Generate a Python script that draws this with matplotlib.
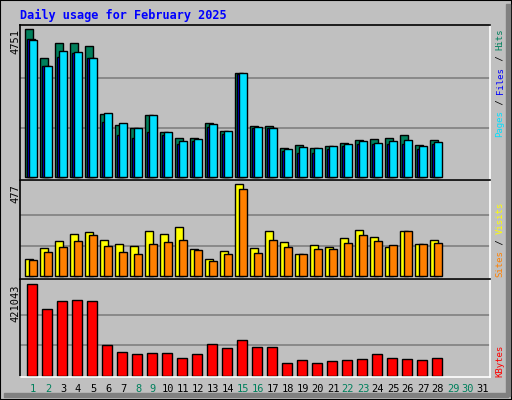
import numpy as np
import matplotlib.pyplot as plt
from matplotlib.patches import Rectangle

W, H = 512, 400
days = np.arange(1, 29)
day_labels = [str(d) for d in range(1, 32)]
weekend = [1, 2, 8, 9, 15, 16, 22, 23, 29, 30]

hits = [4751, 3810, 4303, 4303, 4216, 2017, 1678, 1555, 1976, 1455, 1248, 1248, 1725,
        1484, 3344, 1646, 1646, 935, 1016, 935, 991, 1081, 1170, 1200, 1232, 1353, 1016, 1170]
files = [4405, 3558, 4040, 4020, 3829, 2068, 1725, 1580, 1976, 1436, 1160, 1200, 1707,
         1478, 3338, 1600, 1580, 903, 967, 935, 1000, 1060, 1150, 1090, 1150, 1180, 1000, 1120]
pages = [4450, 3560, 3860, 3990, 3820, 1747, 1350, 1260, 1450, 1330, 1060, 1150, 1600,
         1390, 3300, 1560, 1560, 820, 760, 760, 880, 1000, 1040, 1040, 1040, 1040, 880, 1040]
visits = [88, 145, 181, 218, 228, 187, 166, 156, 233, 218, 254, 140, 88, 130, 477, 145,
          233, 176, 114, 161, 150, 197, 238, 202, 150, 233, 166, 187]
sites = [83, 124, 150, 181, 212, 156, 124, 114, 166, 176, 187, 135, 78, 114, 451, 119,
         187, 150, 114, 140, 140, 171, 212, 181, 161, 233, 166, 171]
kbytes = [421043, 305800, 342700, 347300, 342700, 139600, 107400, 98100, 102700, 102700,
          79700, 98100, 144200, 125800, 162700, 133000, 130400, 59800, 73700, 59800, 69000,
          73700, 78200, 101200, 82800, 78200, 73700, 82800]

GREEN, BLUE, CYAN = '#00805C', '#0000FF', '#00E0FF'
YELLOW, ORANGE, RED = '#FFFF00', '#FF8000', '#FF0000'
GRAY = '#C0C0C0'
MONO = 'DejaVu Sans Mono'

fig = plt.figure(figsize=(W / 100, H / 100), dpi=100, facecolor=GRAY)
px = fig.transFigure.inverted()


def fx(x):
    return x / W


def fy(y):
    return 1 - y / H


# frame and bevel
fig.patches.append(Rectangle((0, 0), 1, 1, transform=fig.transFigure, fill=False,
                             edgecolor='black', lw=1.5))
fig.patches.append(Rectangle((fx(506), fy(396)), fx(4), 1 - fy(396) - fy(4) + fy(4) - fy(4) + (fy(4) - fy(396)) - (fy(4) - fy(396)) + (fy(4) - fy(396)),
                             transform=fig.transFigure, color='#808080'))
fig.patches.append(Rectangle((fx(4), fy(397)), fx(504), fy(393) - fy(397),
                             transform=fig.transFigure, color='#808080'))


def panel(y0, y1, zero_y, max_y, vmax):
    ax = fig.add_axes([fx(20), fy(y1), fx(490) - fx(20), fy(y0) - fy(y1)])
    scale = (zero_y - max_y) / vmax
    ax.set_ylim(-(y1 - zero_y) / scale, (zero_y - y0) / scale)
    ax.set_xlim(20, 490)
    ax.set_facecolor(GRAY)
    ax.set_xticks([])
    ax.set_yticks([])
    for s in ('top', 'left'):
        ax.spines[s].set_color('black')
    for s in ('bottom', 'right'):
        ax.spines[s].set_color('white')
    for s in ax.spines.values():
        s.set_linewidth(1.2)
    for g in (vmax / 3, 2 * vmax / 3):
        ax.axhline(g, color='#808080', lw=1.2, zorder=0)
    return ax


left = 25 + 15 * (days - 1)
bkw = dict(align='edge', edgecolor='black', linewidth=1, zorder=2)

ax1 = panel(25, 180, 176.7, 29.3, 4751)
ax1.bar(left, hits, width=8, color=GREEN, **bkw)
ax1.bar(left + 2, pages, width=8, color=BLUE, **bkw)
ax1.bar(left + 4, files, width=8, color=CYAN, **bkw)

ax2 = panel(180, 279.3, 276.3, 184.3, 477)
ax2.bar(left, visits, width=8, color=YELLOW, **bkw)
ax2.bar(left + 4, sites, width=8, color=ORANGE, **bkw)

ax3 = panel(279.3, 377, 375.7, 284.3, 421043)
ax3.bar(left + 2, kbytes, width=10, color=RED, **bkw)

fig.text(fx(20), fy(15), 'Daily usage for February 2025', color=BLUE, family=MONO,
         fontsize=8.6, fontweight='bold', va='center', ha='left')

for y, t in ((29, '4751'), (184, '477'), (284, '421043')):
    fig.text(fx(15), fy(y), t, rotation=90, family=MONO, fontsize=7.5, va='top', ha='center')


def side_label(bottom, parts, fs=6.5):
    adv = 0.602 * fs * 100 / 72
    y = bottom
    for txt, col in parts:
        fig.text(fx(500), fy(y), txt, rotation=90, color=col, family=MONO, fontsize=fs,
                 va='bottom', ha='center')
        y -= adv * len(txt)


side_label(137, [('Pages', CYAN), (' / ', 'black'), ('Files', BLUE), (' / ', 'black'), ('Hits', GREEN)])
side_label(277, [('Sites', ORANGE), (' / ', 'black'), ('Visits', YELLOW)])
side_label(377, [('KBytes', RED)])

for i, lab in enumerate(day_labels):
    col = GREEN if (i + 1) in weekend else 'black'
    fig.text(fx(33 + 15 * i), fy(389), lab, color=col, family=MONO, fontsize=7.5,
             ha='center', va='center')

fig.savefig('out.png', dpi=100, facecolor=GRAY)
